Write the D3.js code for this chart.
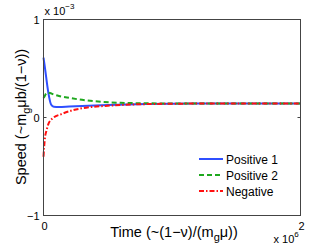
<!DOCTYPE html>
<html>
<head>
<meta charset="utf-8">
<script src="https://cdn.jsdelivr.net/npm/d3@7"></script>
<style>
  body { margin: 0; background: #fff; }
  text { font-family: "Liberation Sans", Arial, sans-serif; fill: #000; }
</style>
</head>
<body>
<div id="chart"></div>
<script>
// time in units of 1e6, speed in units of 1e-3
var tPos1 = [0, 0.01, 0.02, 0.03, 0.045, 0.06, 0.08, 0.12, 0.2, 0.35, 0.5, 0.8, 1.2, 2.0];
var vPos1 = [0.61, 0.52, 0.42, 0.32, 0.2, 0.13, 0.11, 0.108, 0.112, 0.12, 0.128, 0.138, 0.142, 0.142];

var tPos2 = [0, 0.01, 0.02, 0.03, 0.05, 0.08, 0.12, 0.2, 0.3, 0.45, 0.6, 0.8, 1.2, 2.0];
var vPos2 = [0.2, 0.22, 0.245, 0.255, 0.25, 0.235, 0.22, 0.2, 0.18, 0.16, 0.15, 0.145, 0.142, 0.142];

var tNeg = [0, 0.005, 0.012, 0.022, 0.04, 0.08, 0.14, 0.23, 0.36, 0.5, 0.75, 1.2, 2.0];
var vNeg = [-0.4, -0.3, -0.2, -0.14, -0.06, 0.0, 0.035, 0.075, 0.105, 0.12, 0.135, 0.142, 0.142];

var seriesNames = ["Positive 1", "Positive 2", "Negative"];
var xTicks = [0, 2];
var yTicks = [-1, 0, 1];

var width = 332, height = 250;
var margin = {top: 19.5, right: 31.5, bottom: 34.5, left: 43.5};
var w = width - margin.left - margin.right,
    h = height - margin.top - margin.bottom;

var svg = d3.select("#chart").append("svg")
    .attr("width", width)
    .attr("height", height);

var g = svg.append("g")
    .attr("transform", "translate(" + margin.left + "," + margin.top + ")");

var x = d3.scaleLinear().domain([0, 2]).range([0, w]);
var y = d3.scaleLinear().domain([-1, 1]).range([h, 0]);

var series = [
  {name: seriesNames[0], t: tPos1, v: vPos1, color: "#2f4fff", dash: null},
  {name: seriesNames[1], t: tPos2, v: vPos2, color: "#1fa81f", dash: "5,3"},
  {name: seriesNames[2], t: tNeg, v: vNeg, color: "#ff1010", dash: "5,2,1.5,2"}
];

var line = d3.line()
    .x(function(d) { return x(d[0]); })
    .y(function(d) { return y(d[1]); })
    .curve(d3.curveMonotoneX);

// curves
g.selectAll("path.curve")
  .data(series)
  .enter().append("path")
    .attr("class", "curve")
    .attr("fill", "none")
    .attr("stroke", function(d) { return d.color; })
    .attr("stroke-width", 2)
    .attr("stroke-dasharray", function(d) { return d.dash; })
    .attr("d", function(d) { return line(d.t.map(function(t, i) { return [t, d.v[i]]; })); });

// box + inside ticks
g.append("rect")
    .attr("width", w).attr("height", h)
    .attr("fill", "none").attr("stroke", "#444").attr("stroke-width", 1);

g.selectAll("line.ytick")
  .data(yTicks)
  .enter().append("line")
    .attr("x1", 0).attr("x2", 3)
    .attr("y1", function(d) { return y(d); }).attr("y2", function(d) { return y(d); })
    .attr("stroke", "#444");
g.selectAll("line.ytick2")
  .data(yTicks)
  .enter().append("line")
    .attr("x1", w - 3).attr("x2", w)
    .attr("y1", function(d) { return y(d); }).attr("y2", function(d) { return y(d); })
    .attr("stroke", "#444");

// tick labels
g.selectAll("text.ylab")
  .data(yTicks)
  .enter().append("text")
    .attr("x", -4)
    .attr("y", function(d) { return y(d) + 4.5; })
    .attr("text-anchor", "end")
    .style("font-size", "11px")
    .text(function(d) { return d < 0 ? "\u2212" + Math.abs(d) : d; });

g.selectAll("text.xlab")
  .data(xTicks)
  .enter().append("text")
    .attr("x", function(d) { return x(d) + 1; })
    .attr("y", h + 14)
    .attr("text-anchor", "middle")
    .style("font-size", "11px")
    .text(function(d) { return d; });

// exponent labels
var e1 = g.append("text").attr("x", 1).attr("y", -5).style("font-size", "11px");
e1.append("tspan").text("x 10");
e1.append("tspan").attr("dy", -6).style("font-size", "8px").text("\u22123");

var e2 = g.append("text").attr("x", w - 27).attr("y", h + 27).style("font-size", "11px");
e2.append("tspan").text("x 10");
e2.append("tspan").attr("dy", -6).style("font-size", "8px").text("6");

// axis titles
var xt = svg.append("text")
    .attr("x", 174).attr("y", 237)
    .attr("text-anchor", "middle")
    .style("font-size", "14.5px");
xt.append("tspan").text("Time (~(1\u2212\u03bd)/(m");
xt.append("tspan").attr("dy", 4).style("font-size", "11px").text("g");
xt.append("tspan").attr("dy", -4).text("\u03bc))");

var yt = svg.append("text")
    .attr("transform", "translate(26,117) rotate(-90)")
    .attr("text-anchor", "middle")
    .style("font-size", "14.5px");
yt.append("tspan").text("Speed (~m");
yt.append("tspan").attr("dy", 4).style("font-size", "11px").text("g");
yt.append("tspan").attr("dy", -4).text("\u03bcb/(1\u2212\u03bd))");

// legend
var leg = g.selectAll("g.leg")
  .data(series)
  .enter().append("g")
    .attr("transform", function(d, i) { return "translate(" + (199 - margin.left) + "," + (159 - margin.top + i * 16) + ")"; });
leg.append("line")
    .attr("x1", 0).attr("x2", 24)
    .attr("stroke", function(d) { return d.color; })
    .attr("stroke-width", 2)
    .attr("stroke-dasharray", function(d) { return d.dash; });
leg.append("text")
    .attr("x", 27).attr("y", 4.5)
    .style("font-size", "12px")
    .text(function(d) { return d.name; });
</script>
</body>
</html>
